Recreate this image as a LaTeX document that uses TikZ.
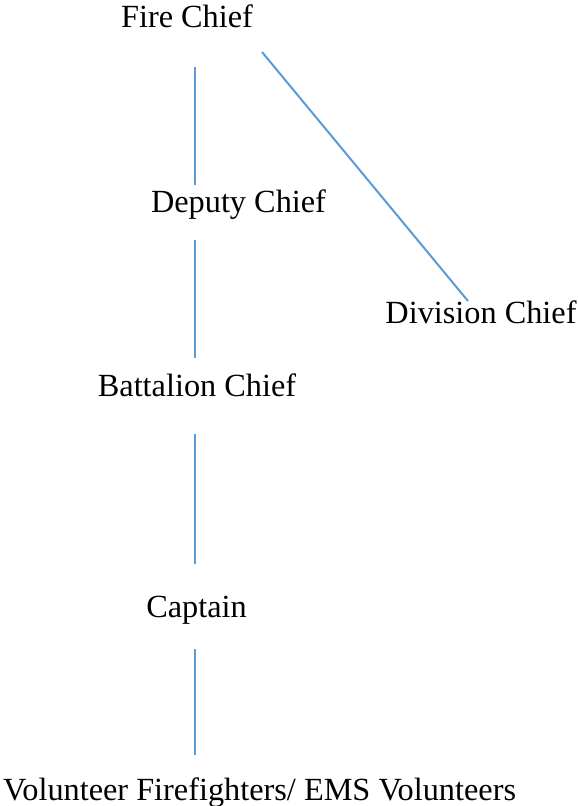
\documentclass[tikz,border=0pt]{standalone}
\usepackage{fontspec}
\setmainfont{Liberation Serif}
\definecolor{linkblue}{RGB}{91,155,213}
\begin{document}
\begin{tikzpicture}[x=1pt,y=-1pt,
  lbl/.style={inner sep=0pt,anchor=base,font=\fontsize{32.3}{38}\selectfont,text=black},
  link/.style={draw=linkblue,line width=2pt}]
\useasboundingbox (0,0) rectangle (578,806);
\node[lbl] (fire) at (187,27) {Fire Chief};
\node[lbl] (deputy) at (238.5,212) {Deputy Chief};
\node[lbl] (division) at (481,323) {Division Chief};
\node[lbl] (battalion) at (197,396) {Battalion Chief};
\node[lbl] (captain) at (196.5,617) {Captain};
\node[lbl,anchor=base west] (vol) at (3,800) {Volunteer Firefighters/ EMS Volunteers};
\coordinate (fireA) at (195,67);
\coordinate (deputyT) at (195,185);
\coordinate (deputyB) at (195,240);
\coordinate (battT) at (195,358);
\coordinate (battB) at (195,434);
\coordinate (captT) at (195,564);
\coordinate (captB) at (195,649);
\coordinate (volT) at (195,755);
\coordinate (fireB) at (262,52);
\coordinate (divT) at (468,301);
\draw[link] (fireA) -- (deputyT);
\draw[link] (deputyB) -- (battT);
\draw[link] (battB) -- (captT);
\draw[link] (captB) -- (volT);
\draw[link] (fireB) -- (divT);
\end{tikzpicture}
\end{document}
